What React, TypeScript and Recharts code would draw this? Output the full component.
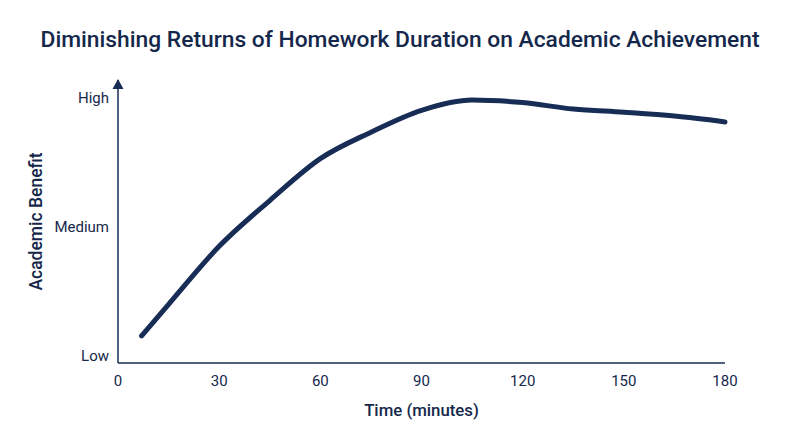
import React from 'react'
import { LineChart, Line, XAxis, YAxis, ReferenceDot } from 'recharts'

const NAVY = '#182d55'
const TEXT = '#15284b'

// homework time in minutes
const minutes = [7, 15, 30, 45, 60, 75, 90, 105, 120, 135, 150, 165, 180]
// academic benefit: 0 = Low, 1 = Medium, 2 = High
const benefit = [0.155, 0.4, 0.85, 1.205, 1.53, 1.735, 1.905, 1.985, 1.965, 1.915, 1.89, 1.86, 1.815]

const xTicks = [0, 30, 60, 90, 120, 150, 180]
const yTicks = [0, 1, 2]
const yTickLabels = ['Low', 'Medium', 'High']

const data = minutes.map((m, i) => ({ minutes: m, benefit: benefit[i] }))

function ArrowHead({ cx, cy }: any) {
    if (cx == null || cy == null) return null
    return <polygon points={`${cx},${cy - 1} ${cx - 5.5},${cy + 9} ${cx + 5.5},${cy + 9}`} fill={NAVY} />
}

export default function App() {
    return (
        <div
            style={{
                position: 'absolute',
                left: 0,
                top: 0,
                width: 800,
                height: 447,
                background: '#fff',
                fontFamily: 'Roboto, sans-serif',
            }}
        >
            <div
                style={{
                    position: 'absolute',
                    top: 26,
                    left: 0,
                    width: 800,
                    textAlign: 'center',
                    fontSize: 22.8,
                    fontWeight: 500,
                    color: TEXT,
                    lineHeight: '28px',
                }}
            >
                Diminishing Returns of Homework Duration on Academic Achievement
            </div>

            <LineChart
                width={800}
                height={447}
                data={data}
                margin={{ top: 80, right: 75, bottom: 0, left: 0 }}
            >
                <XAxis
                    dataKey="minutes"
                    type="number"
                    domain={[0, 180]}
                    ticks={xTicks}
                    height={84}
                    tickLine={false}
                    tickSize={0}
                    tickMargin={12}
                    axisLine={{ stroke: NAVY, strokeWidth: 1.5 }}
                    tick={{ fill: TEXT, fontSize: 15 }}
                    label={{
                        value: 'Time (minutes)',
                        position: 'insideTop',
                        offset: 41,
                        fill: TEXT,
                        fontSize: 16.8,
                        fontWeight: 500,
                    }}
                />
                <YAxis
                    type="number"
                    domain={[-0.055, 2.14]}
                    ticks={yTicks}
                    width={118}
                    tickLine={false}
                    tickSize={0}
                    tickMargin={9}
                    axisLine={{ stroke: NAVY, strokeWidth: 1.5 }}
                    tick={{ fill: TEXT, fontSize: 15 }}
                    tickFormatter={(v: number) => yTickLabels[yTicks.indexOf(v)] ?? ''}
                    label={{
                        value: 'Academic Benefit',
                        angle: -90,
                        position: 'insideLeft',
                        offset: 36,
                        fill: TEXT,
                        fontSize: 17.5,
                        fontWeight: 500,
                        style: { textAnchor: 'middle' },
                    }}
                />
                <ReferenceDot x={0} y={2.14} ifOverflow="visible" shape={ArrowHead} />
                <Line
                    type="monotone"
                    dataKey="benefit"
                    stroke={NAVY}
                    strokeWidth={5}
                    strokeLinecap="round"
                    dot={false}
                    activeDot={false}
                    isAnimationActive={false}
                />
            </LineChart>
        </div>
    )
}
